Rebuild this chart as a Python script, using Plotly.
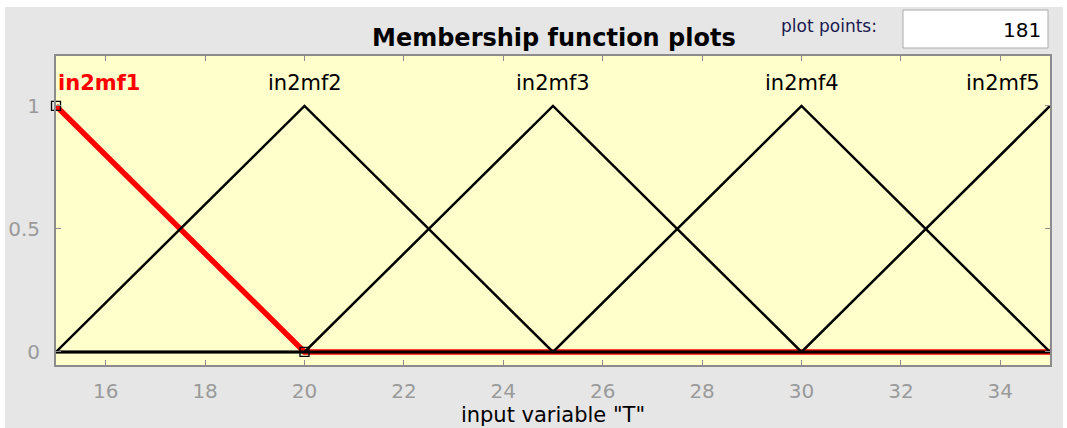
import plotly.graph_objects as go

# Membership functions of input variable "T" (triangle vertices)
mf_names = ["in2mf1", "in2mf2", "in2mf3", "in2mf4", "in2mf5"]
mf_x = [
    [15, 20, 35],
    [15, 20, 25, 35],
    [15, 20, 25, 30, 35],
    [15, 25, 30, 35],
    [15, 30, 35],
]
mf_y = [
    [1, 0, 0],
    [0, 1, 0, 0],
    [0, 0, 1, 0, 0],
    [0, 0, 1, 0],
    [0, 0, 1],
]
mf_peaks = [15, 20, 25, 30, 35]
selected = 0  # in2mf1 is highlighted

x_ticks = [16, 18, 20, 22, 24, 26, 28, 30, 32, 34]
y_ticks = [0, 0.5, 1]
plot_points = "181"

FONT = "DejaVu Sans"
W, H = 1067, 428
ML, MR, MT, MB = 56, 17, 56, 63
PW, PH = W - ML - MR, H - MT - MB
X_RANGE = [15, 35]


def px(xp):
    return (xp - ML) / PW


def py(yp):
    return (H - MB - yp) / PH


def xdata_to_paper(v):
    return (v - X_RANGE[0]) / (X_RANGE[1] - X_RANGE[0])


fig = go.Figure()

# highlighted function first, thick red with vertex markers
fig.add_trace(go.Scatter(
    x=mf_x[selected], y=mf_y[selected], mode="lines",
    line=dict(color="#ff0000", width=5.5), hoverinfo="skip", showlegend=False,
))

for i in range(len(mf_names)):
    if i == selected:
        continue
    fig.add_trace(go.Scatter(
        x=mf_x[i], y=mf_y[i], mode="lines",
        line=dict(color="#000000", width=2.5), hoverinfo="skip", showlegend=False,
    ))

fig.add_trace(go.Scatter(
    x=mf_x[selected][:2], y=mf_y[selected][:2], mode="markers",
    marker=dict(symbol="square-open", size=9, color="#000000", line=dict(width=1.3)),
    hoverinfo="skip", showlegend=False,
    cliponaxis=False,
))

# function names above their peaks
label_y = py(83)
for i, name in enumerate(mf_names):
    if i == 0:
        anchor, xpos = "left", 0.0
    elif i == len(mf_names) - 1:
        anchor, xpos = "right", px(1042)
    else:
        anchor, xpos = "center", xdata_to_paper(mf_peaks[i])
    is_sel = i == selected
    fig.add_annotation(
        x=xpos, y=label_y, xref="paper", yref="paper",
        text="<b>" + name + "</b>" if is_sel else name, showarrow=False,
        xanchor=anchor, yanchor="middle",
        font=dict(family=FONT, size=21, color="#ff0000" if is_sel else "#000000"),
    )

# grey panel, then the pale yellow axes background on top of it
fig.add_shape(type="rect", xref="paper", yref="paper",
              x0=px(5), x1=px(1063), y0=py(428), y1=py(7),
              fillcolor="#e6e6e6", line=dict(width=0), layer="below")
fig.add_shape(type="rect", xref="paper", yref="paper",
              x0=0, x1=1, y0=0, y1=1,
              fillcolor="#ffffcc", line=dict(width=0), layer="below")

# plot points entry box
fig.add_shape(type="rect", xref="paper", yref="paper",
              x0=px(903), x1=px(1048), y0=py(48), y1=py(10),
              fillcolor="#ffffff", line=dict(color="#ababab", width=1))
fig.add_annotation(xref="paper", yref="paper", x=px(1043), y=py(30),
                   text=plot_points, showarrow=False, xanchor="right", yanchor="middle",
                   font=dict(family=FONT, size=20, color="#000000"))
fig.add_annotation(xref="paper", yref="paper", x=px(829), y=py(26),
                   text="plot points:", showarrow=False, xanchor="center", yanchor="middle",
                   font=dict(family=FONT, size=17, color="#1a1a50"))

# title
fig.add_annotation(xref="paper", yref="paper", x=px(554), y=py(38),
                   text="<b>Membership function plots</b>", showarrow=False,
                   xanchor="center", yanchor="middle",
                   font=dict(family=FONT, size=24, color="#000000"))

fig.update_layout(
    width=W, height=H,
    margin=dict(l=ML, r=MR, t=MT, b=MB),
    paper_bgcolor="#ffffff",
    plot_bgcolor="rgba(0,0,0,0)",
    showlegend=False,
    xaxis=dict(
        range=X_RANGE, tickvals=x_ticks, ticks="inside", ticklen=5,
        tickcolor="#8c8c8c", showgrid=False, zeroline=False,
        showline=True, linecolor="#8c8c8c", linewidth=2, mirror="ticks",
        ticklabelstandoff=7, automargin=False,
        tickfont=dict(family=FONT, size=20, color="#9a9a9a"),
        title=dict(text='input variable "T"', standoff=2,
                   font=dict(family=FONT, size=21, color="#000000")),
    ),
    yaxis=dict(
        range=[-0.053, 1.203], tickvals=y_ticks, ticktext=["0", "0.5", "1"],
        ticks="inside", ticklen=5, tickcolor="#8c8c8c", showgrid=False, zeroline=False,
        showline=True, linecolor="#8c8c8c", linewidth=2, mirror="ticks",
        ticklabelstandoff=10, automargin=False,
        tickfont=dict(family=FONT, size=20, color="#9a9a9a"),
    ),
)

fig.write_html("out.html")
